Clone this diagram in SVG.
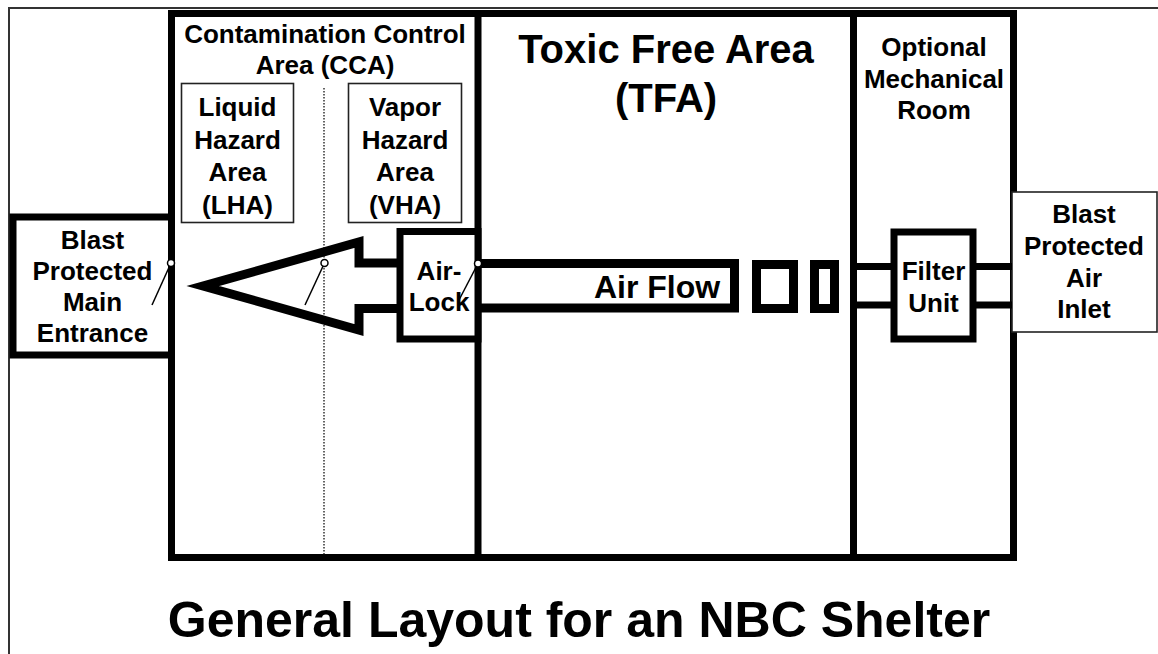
<svg xmlns="http://www.w3.org/2000/svg" width="1158" height="654" viewBox="0 0 1158 654">
<style>
text{font-family:"Liberation Sans",Arial,sans-serif;font-weight:bold;fill:#000;text-anchor:middle}
.t26{font-size:26px}
.thick{fill:none;stroke:#000;stroke-width:7;stroke-linejoin:miter}
.box{fill:#fff;stroke:#000;stroke-width:7}
.thin{fill:#fff;stroke:#222;stroke-width:1.6}
.flow{fill:none;stroke:#000;stroke-width:9;stroke-linejoin:miter;stroke-miterlimit:6}
.hinge{fill:#fff;stroke:#000;stroke-width:1.5}
.swing{stroke:#000;stroke-width:1.5}
</style>
<rect width="1158" height="654" fill="#fff"/>
<rect x="9" y="8" width="1200" height="700" fill="none" stroke="#333" stroke-width="2"/>

<g id="building">
<rect class="thick" x="171.5" y="13.5" width="842" height="544"/>
<line class="thick" x1="478" y1="13.5" x2="478" y2="557.5"/>
<line class="thick" x1="853.5" y1="13.5" x2="853.5" y2="557.5"/>
<line x1="324" y1="88" x2="324" y2="556" stroke="#111" stroke-width="1.3" stroke-dasharray="1.5,1.5"/>
</g>

<g id="cca">
<text class="t26" x="325" y="43">Contamination Control</text>
<text class="t26" x="325" y="74">Area (CCA)</text>
</g>

<g id="lha">
<rect class="thin" x="181.5" y="83.5" width="112" height="139"/>
<text class="t26" x="237.5" y="116">Liquid</text>
<text class="t26" x="237.5" y="148.5">Hazard</text>
<text class="t26" x="237.5" y="181">Area</text>
<text class="t26" x="237.5" y="213.5">(LHA)</text>
</g>

<g id="vha">
<rect class="thin" x="348.5" y="83.5" width="113" height="139"/>
<text class="t26" x="405" y="116">Vapor</text>
<text class="t26" x="405" y="148.5">Hazard</text>
<text class="t26" x="405" y="181">Area</text>
<text class="t26" x="405" y="213.5">(VHA)</text>
</g>

<g id="tfa">
<text x="666" y="63" font-size="40">Toxic Free Area</text>
<text x="666" y="112" font-size="40">(TFA)</text>
</g>

<g id="mech">
<text class="t26" x="934" y="56">Optional</text>
<text class="t26" x="934" y="88">Mechanical</text>
<text class="t26" x="934" y="119">Room</text>
</g>

<g id="entrance">
<rect class="box" x="13" y="217" width="158.5" height="138"/>
<text class="t26" x="92.5" y="249">Blast</text>
<text class="t26" x="92.5" y="280">Protected</text>
<text class="t26" x="92.5" y="311">Main</text>
<text class="t26" x="92.5" y="342">Entrance</text>
</g>

<g id="inlet">
<rect class="thin" x="1012" y="192" width="145" height="140"/>
<text class="t26" x="1084" y="223">Blast</text>
<text class="t26" x="1084" y="255">Protected</text>
<text class="t26" x="1084" y="287">Air</text>
<text class="t26" x="1084" y="318">Inlet</text>
</g>

<g id="connectors">
<polyline class="flow" points="400,263 359,263 359,242 203,286 359,330 359,308.5 400,308.5"/>
<polyline class="flow" points="478,263.5 734.5,263.5 734.5,308 478,308"/>
<rect class="flow" x="756.5" y="264.5" width="37" height="44"/>
<rect class="flow" x="814.5" y="264.5" width="20" height="44"/>
<line class="thick" x1="853.5" y1="266.5" x2="894" y2="266.5"/>
<line class="thick" x1="853.5" y1="305" x2="894" y2="305"/>
<line class="thick" x1="973" y1="266.5" x2="1012" y2="266.5"/>
<line class="thick" x1="973" y1="305" x2="1012" y2="305"/>
</g>

<g id="airlock">
<rect class="box" x="400" y="231.5" width="78" height="107.5"/>
<text class="t26" x="439" y="280">Air-</text>
<text class="t26" x="439" y="311">Lock</text>
</g>

<g id="filter">
<rect class="box" x="894" y="232" width="79" height="107" stroke-width="8"/>
<text class="t26" x="933.5" y="280">Filter</text>
<text class="t26" x="933.5" y="312">Unit</text>
</g>

<g id="airflow-label">
<text x="657" y="298" font-size="32">Air Flow</text>
</g>

<g id="doors">
<line class="swing" x1="171" y1="263" x2="152" y2="305"/>
<circle class="hinge" cx="171" cy="263" r="3.5"/>
<line class="swing" x1="324.5" y1="263" x2="305" y2="305"/>
<circle class="hinge" cx="324.5" cy="263" r="3.5"/>
<line class="swing" x1="478" y1="263.5" x2="459" y2="300"/>
<circle class="hinge" cx="478" cy="263.5" r="3.5"/>
</g>

<g id="title">
<text x="579" y="637" font-size="50">General Layout for an NBC Shelter</text>
</g>
</svg>
